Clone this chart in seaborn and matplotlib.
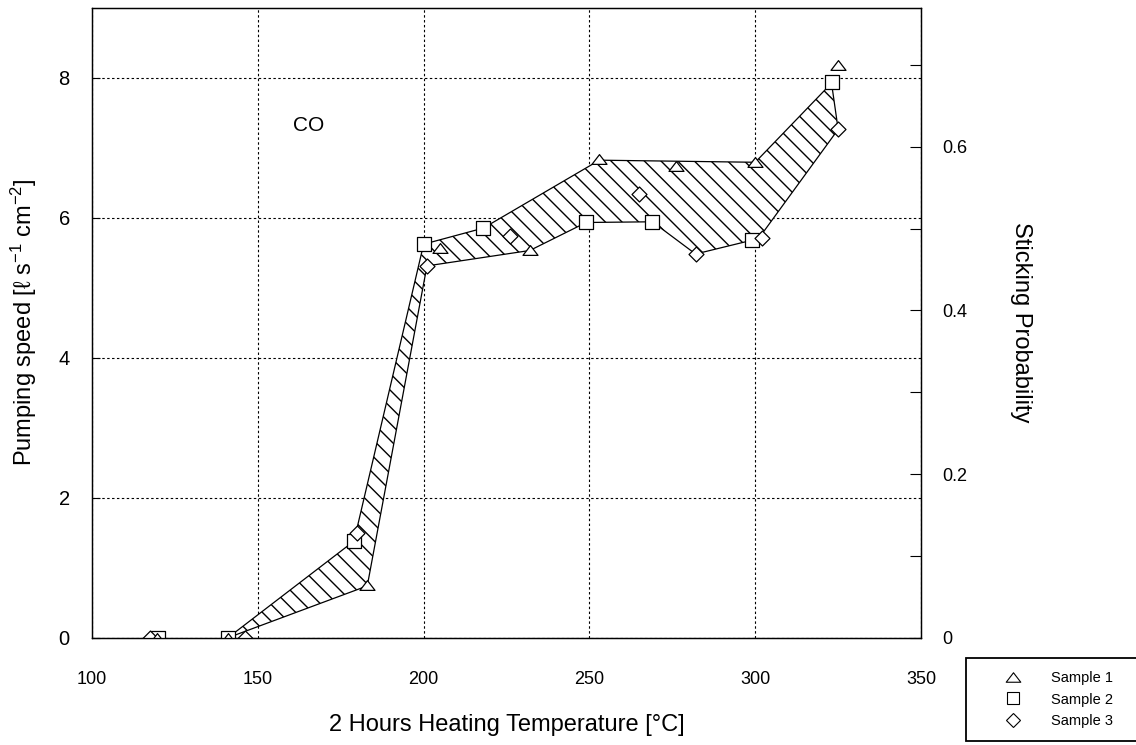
import numpy as np
import pandas as pd
import matplotlib
matplotlib.use("Agg")
import matplotlib.pyplot as plt
from matplotlib.path import Path
from matplotlib.markers import MarkerStyle
from matplotlib.lines import Line2D
import seaborn as sns

sample1_temp = [119.5, 141, 183, 205, 232, 253, 276, 300, 325]
sample1_speed = [0.0, 0.0, 0.75, 5.57, 5.53, 6.83, 6.74, 6.79, 8.18]
sample2_temp = [120, 141, 179, 200, 218, 249, 269, 299, 323]
sample2_speed = [0.0, 0.0, 1.38, 5.62, 5.85, 5.93, 5.94, 5.68, 7.93]
sample3_temp = [117.5, 146, 180, 201, 226, 265, 282, 302, 325]
sample3_speed = [0.0, 0.0, 1.49, 5.31, 5.74, 6.34, 5.48, 5.71, 7.26]

# outline of the hatched band
band_upper_temp = [141, 179, 200, 218, 253, 300, 323]
band_upper_speed = [0.0, 1.38, 5.62, 5.85, 6.82, 6.79, 7.92]
band_lower_temp = [141, 183, 201, 232, 249, 269, 282, 301, 325]
band_lower_speed = [0.0, 0.74, 5.31, 5.53, 5.93, 5.94, 5.48, 5.70, 7.26]

sample_names = ["Sample 1", "Sample 2", "Sample 3"]
x_ticks = [100, 150, 200, 250, 300, 350]
y_ticks = [0, 2, 4, 6, 8]
prob_ticks = [0, 0.1, 0.2, 0.3, 0.4, 0.5, 0.6, 0.7]
prob_labels = ["0", "", "0.2", "", "0.4", "", "0.6", ""]


def main() -> None:
    sns.set_style("white")
    plt.rcParams["font.family"] = ["Liberation Sans", "DejaVu Sans"]
    plt.rcParams["mathtext.fontset"] = "custom"
    plt.rcParams["mathtext.rm"] = "Liberation Sans"
    plt.rcParams["mathtext.it"] = "Liberation Sans:italic"
    plt.rcParams["hatch.linewidth"] = 1.0
    for key in ["text.color", "axes.labelcolor", "xtick.color", "ytick.color"]:
        plt.rcParams[key] = "black"

    fig = plt.figure(figsize=(11.36, 7.45), dpi=100)
    ax = fig.add_axes([0.0810, 0.1440, 0.7298, 0.8459])

    tri = MarkerStyle(Path([(-1, -0.65), (1, -0.65), (0, 0.65), (-1, -0.65)],
                           [Path.MOVETO, Path.LINETO, Path.LINETO, Path.CLOSEPOLY]))

    # hatched band between the samples
    poly_t = band_upper_temp + band_lower_temp[::-1][:-1]
    poly_s = band_upper_speed + band_lower_speed[::-1][:-1]
    ax.fill(poly_t, poly_s, facecolor="white", edgecolor="black",
            hatch="\\\\", linewidth=0.9, zorder=2)

    df = pd.concat([
        pd.DataFrame({"temp": sample1_temp, "speed": sample1_speed, "sample": sample_names[0]}),
        pd.DataFrame({"temp": sample2_temp, "speed": sample2_speed, "sample": sample_names[1]}),
        pd.DataFrame({"temp": sample3_temp, "speed": sample3_speed, "sample": sample_names[2]}),
    ])
    marker_map = {"Sample 1": (tri, 117), "Sample 2": ("s", 110), "Sample 3": ("D", 58)}
    for name in ["Sample 2", "Sample 3", "Sample 1"]:
        mk, size = marker_map[name]
        sns.scatterplot(data=df[df["sample"] == name], x="temp", y="speed", ax=ax,
                        marker=mk, s=size, color="white", edgecolor="black",
                        linewidth=0.9, zorder=3, legend=False)

    ax.set_xlim(100, 350)
    ax.set_ylim(0, 9)
    ax.set_xticks(x_ticks)
    ax.set_yticks(y_ticks)
    ax.grid(True, color="black", linestyle=(0, (2.2, 2.2)), linewidth=0.8)
    ax.tick_params(axis="both", direction="in", color="black")
    ax.tick_params(axis="y", length=6, pad=16, right=False, labelsize=14.5)
    ax.tick_params(axis="x", length=4, pad=24, top=False, labelsize=13)
    for sp in ax.spines.values():
        sp.set_color("black")
        sp.set_linewidth(0.9)

    ax.text(160.6, 7.32, "CO", fontsize=15, ha="left", va="center")

    ax.set_xlabel("2 Hours Heating Temperature [°C]", fontsize=17, va="center")
    ax.xaxis.set_label_coords(0.5, -0.1385)
    ax.set_ylabel("Pumping speed [ℓ s$^{-1}$ cm$^{-2}$]", fontsize=17, va="center")
    ax.yaxis.set_label_coords(-0.082, 0.5)

    ax2 = ax.twinx()
    ax2.set_ylim(0, 0.77)
    ax2.set_yticks(prob_ticks)
    ax2.set_yticklabels(prob_labels)
    ax2.tick_params(axis="y", direction="in", length=8, pad=15, labelsize=13, color="black")
    ax2.grid(False)
    ax2.set_ylabel("Sticking Probability", fontsize=17, rotation=-90, va="center")
    ax2.yaxis.set_label_coords(1.1206, 0.5)
    for sp in ax2.spines.values():
        sp.set_color("black")
        sp.set_linewidth(0.9)

    handles = [
        Line2D([], [], linestyle="none", marker=tri, markersize=10.5, markerfacecolor="white",
               markeredgecolor="black", markeredgewidth=0.8),
        Line2D([], [], linestyle="none", marker="s", markersize=9, markerfacecolor="white",
               markeredgecolor="black", markeredgewidth=0.8),
        Line2D([], [], linestyle="none", marker="D", markersize=7.5, markerfacecolor="white",
               markeredgecolor="black", markeredgewidth=0.8),
    ]
    leg = fig.legend(handles, sample_names, loc="lower left", mode="expand",
                     bbox_to_anchor=(966 / 1136, 4 / 745, 0.2, 0.11), borderaxespad=0,
                     fontsize=10.5, borderpad=0.9, handlelength=4.66, handletextpad=0.27,
                     labelspacing=0.5, fancybox=False, framealpha=1)
    leg.get_frame().set_edgecolor("black")
    leg.get_frame().set_linewidth(1.3)

    fig.savefig("out.png", dpi=100)


if __name__ == "__main__":
    main()
